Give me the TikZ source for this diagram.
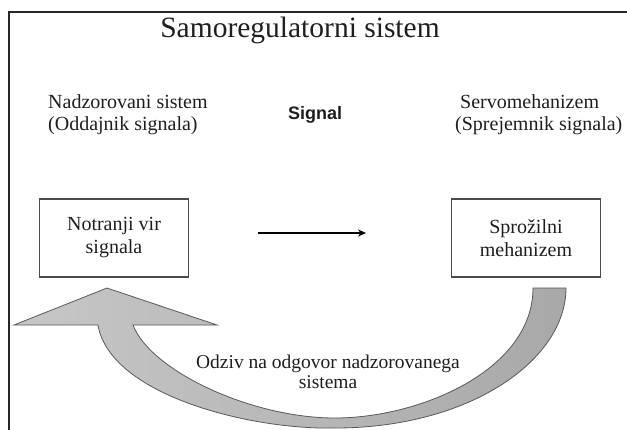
\documentclass[tikz,border=0pt]{standalone}
\usepackage{fontspec}
\setmainfont{Liberation Serif}
\newfontfamily\sigfont{Liberation Sans}
\usetikzlibrary{arrows.meta}
\tikzset{
  txt/.style={inner sep=0pt, text=black!88, font=\fontsize{20}{22}\selectfont},
  box/.style={draw=black!70, line width=1.2pt, fill=white, minimum width=149pt, minimum height=78pt, align=center, inner sep=0pt, text=black!88, font=\fontsize{20}{23}\selectfont},
  frameline/.style={draw=black!85, line width=1.8pt},
  sigarrow/.style={draw=black, line width=1.8pt, -{Stealth[length=8pt,width=7pt]}},
  bigarrow/.style={draw=black!65, line width=0.8pt, left color=black!22, right color=black!34}
}
\begin{document}
\begin{tikzpicture}[x=1pt,y=-1pt]
\useasboundingbox (0,0) rectangle (627,429);
\fill[white] (0,0) rectangle (627,429);
% frame
\draw[frameline] (9,432) -- (9,12) -- (630,12);
% title
\node[txt, anchor=base, font=\fontsize{29.5}{32}\selectfont] (title) at (300,37) {Samoregulatorni sistem};
% labels
\node[txt, anchor=west, align=left] (lbl1) at (48,115) {Nadzorovani sistem\\(Oddajnik signala)};
\node[txt, anchor=base west, font=\sigfont\bfseries\fontsize{18}{20}\selectfont] (signal) at (288,119) {Signal};
\node[txt, anchor=west, align=left] (lbl2) at (455,115) {\hspace*{5pt}Servomehanizem\\(Sprejemnik signala)};
% boxes
\node[box] (vir) at (114,238) {Notranji vir\\signala};
\node[box] (sproz) at (526,238) {Sprožilni\\mehanizem};
% signal arrow
\coordinate (sigS) at (258,233);
\coordinate (sigE) at (366,233);
\draw[sigarrow] (sigS) -- (sigE);
% big curved feedback arrow
\path[bigarrow] (566,288)
  .. controls (566,360) and (470,428) .. (335,428)
  .. controls (250,430) and (110,395) .. (98,325)
  -- (14,325) -- (107,288) -- (217,325) -- (133,325)
  .. controls (150,370) and (250,418) .. (335,418)
  .. controls (420,418) and (533,370) .. (533,288)
  -- cycle;
% bottom text
\node[txt, anchor=center, align=center, font=\fontsize{19.5}{20.5}\selectfont] (odziv) at (328,372) {Odziv na odgovor nadzorovanega\\sistema};
\end{tikzpicture}
\end{document}
